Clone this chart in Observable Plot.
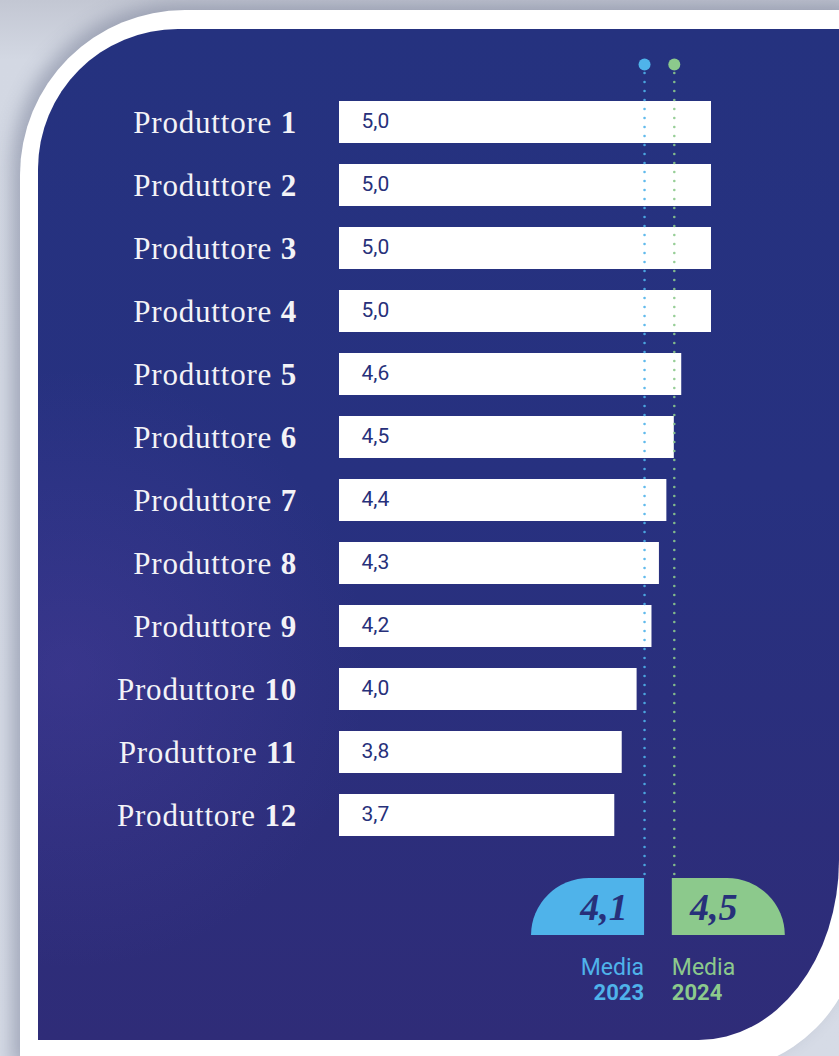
<!DOCTYPE html>
<html>
<head>
<meta charset="utf-8">
<script src="https://cdn.jsdelivr.net/npm/d3@7"></script>
<script src="https://cdn.jsdelivr.net/npm/@observablehq/plot@0.6"></script>
<style>
  html, body { margin: 0; padding: 0; }
  body { width: 839px; height: 1056px; overflow: hidden; position: relative;
    background: linear-gradient(180deg, #c3c7d3 0px, #d3d8e3 60px, #d6dbe6 100%); }
  #card { position: absolute; left: 20px; top: 10px; width: 840px; height: 1062px; background: #ffffff;
    border-top-left-radius: 165px; border-bottom-right-radius: 150px;
    box-shadow: -8px -6px 18px rgba(70,78,110,0.35); }
  #panel { position: absolute; left: 38px; top: 29px; width: 801px; height: 1011px;
    border-top-left-radius: 140px; border-bottom-right-radius: 140px 180px;
    background:
      radial-gradient(circle at 30px 640px, rgba(95,70,175,0.28) 0px, rgba(95,70,175,0.0) 300px),
      linear-gradient(180deg, #25327f 0%, #273180 45%, #2f2c78 100%); }
  #chart { position: absolute; left: 0; top: 0; }
  #chart svg { background: transparent !important; overflow: visible; }
</style>
</head>
<body>
<div id="card"></div>
<div id="panel"></div>
<div id="chart"></div>
<script>
// ---- data ----
const producers = ["1","2","3","4","5","6","7","8","9","10","11","12"];
const scores = [5.0, 5.0, 5.0, 5.0, 4.6, 4.5, 4.4, 4.3, 4.2, 4.0, 3.8, 3.7];
const avgYears = ["2023", "2024"];
const avgValues = [4.1, 4.5];
const avgColors = ["#4fb3ea", "#8cc98c"];
const avgSides = ["left", "right"];

const data = producers.map((p, i) => ({name: "Produttore " + p, num: p, value: scores[i]}));
const averages = avgYears.map((y, i) => ({year: y, value: avgValues[i], color: avgColors[i], side: avgSides[i]}));
const fmt = v => d3.format(".1f")(v).replace(".", ",");

const W = 839, H = 1056;
const marginLeft = 339, marginRight = 128, marginTop = 80, marginBottom = 199;
const NS = "http://www.w3.org/2000/svg";

// producer labels with bold number (uses y scale)
function labelMark(index, scales, values, dimensions) {
  const g = document.createElementNS(NS, "g");
  const bw = typeof scales.y.bandwidth === "function" ? scales.y.bandwidth() : 0;
  for (const d of data) {
    const t = document.createElementNS(NS, "text");
    t.setAttribute("x", dimensions.marginLeft - 42);
    t.setAttribute("y", scales.y(d.name) + bw / 2);
    t.setAttribute("dy", "0.36em");
    t.setAttribute("text-anchor", "end");
    t.setAttribute("fill", "#f3f3f7");
    t.setAttribute("font-family", "'Liberation Serif', serif");
    t.setAttribute("font-size", "31");
    t.setAttribute("letter-spacing", "0.8");
    const a = document.createElementNS(NS, "tspan");
    a.textContent = "Produttore ";
    const b = document.createElementNS(NS, "tspan");
    b.setAttribute("font-weight", "bold");
    b.textContent = d.num;
    t.appendChild(a); t.appendChild(b);
    g.appendChild(t);
  }
  return g;
}

// average tabs + legend (uses x scale)
function tabMark(index, scales, values, dimensions) {
  const g = document.createElementNS(NS, "g");
  const top = dimensions.height - dimensions.marginBottom + 21;
  const h = 57, w = 113, r = 58;
  for (const a of averages) {
    const x = scales.x(a.value);
    const p = document.createElementNS(NS, "path");
    let dPath, cx;
    if (a.side === "left") {
      const x0 = x - w;
      dPath = `M${x},${top} L${x0 + r},${top} A${r},${h} 0 0 0 ${x0},${top + h} L${x},${top + h} Z`;
      cx = x - 40;
    } else {
      const x1 = x + w - 2;
      dPath = `M${x - 2},${top} L${x1 - r},${top} A${r},${h} 0 0 1 ${x1},${top + h} L${x - 2},${top + h} Z`;
      cx = x + 40;
    }
    p.setAttribute("d", dPath);
    p.setAttribute("fill", a.color);
    g.appendChild(p);
    const t = document.createElementNS(NS, "text");
    t.setAttribute("x", cx);
    t.setAttribute("y", top + 42);
    t.setAttribute("text-anchor", "middle");
    t.setAttribute("fill", "#27307a");
    t.setAttribute("font-family", "'Liberation Serif', serif");
    t.setAttribute("font-weight", "bold");
    t.setAttribute("font-style", "italic");
    t.setAttribute("font-size", "38");
    t.textContent = fmt(a.value);
    g.appendChild(t);
    const lx = a.side === "left" ? x : x - 2;
    const anchor = a.side === "left" ? "end" : "start";
    const l1 = document.createElementNS(NS, "text");
    l1.setAttribute("x", lx); l1.setAttribute("y", top + 97);
    l1.setAttribute("text-anchor", anchor);
    l1.setAttribute("fill", a.color);
    l1.setAttribute("font-family", "Roboto, sans-serif");
    l1.setAttribute("font-size", "23");
    l1.textContent = "Media";
    g.appendChild(l1);
    const l2 = document.createElementNS(NS, "text");
    l2.setAttribute("x", lx); l2.setAttribute("y", top + 122);
    l2.setAttribute("text-anchor", anchor);
    l2.setAttribute("fill", a.color);
    l2.setAttribute("font-family", "Roboto, sans-serif");
    l2.setAttribute("font-weight", "bold");
    l2.setAttribute("font-size", "22");
    l2.textContent = a.year;
    g.appendChild(l2);
  }
  return g;
}

const chart = Plot.plot({
  width: W, height: H,
  marginLeft, marginRight, marginTop, marginBottom,
  style: {background: "transparent", overflow: "visible"},
  x: {domain: [0, 5], axis: null},
  y: {domain: data.map(d => d.name), padding: 0.33, axis: null},
  marks: [
    Plot.barX(data, {x: "value", y: "name", fill: "#ffffff"}),
    Plot.text(data, {x: 0, y: "name", text: d => fmt(d.value), dx: 22, dy: -1, textAnchor: "start",
      fill: "#27307a", fontSize: 21, fontFamily: "Roboto, sans-serif"}),
    Plot.ruleX(averages, {x: "value", stroke: "color", strokeWidth: 2.6, strokeDasharray: "0,9",
      strokeLinecap: "round", insetTop: -16, insetBottom: -21, strokeOpacity: 0.9}),
    Plot.dot(averages, {x: "value", frameAnchor: "top", dy: -16, r: 6, fill: "color", stroke: null}),
    labelMark,
    tabMark
  ]
});
document.getElementById("chart").appendChild(chart);
</script>
</body>
</html>
